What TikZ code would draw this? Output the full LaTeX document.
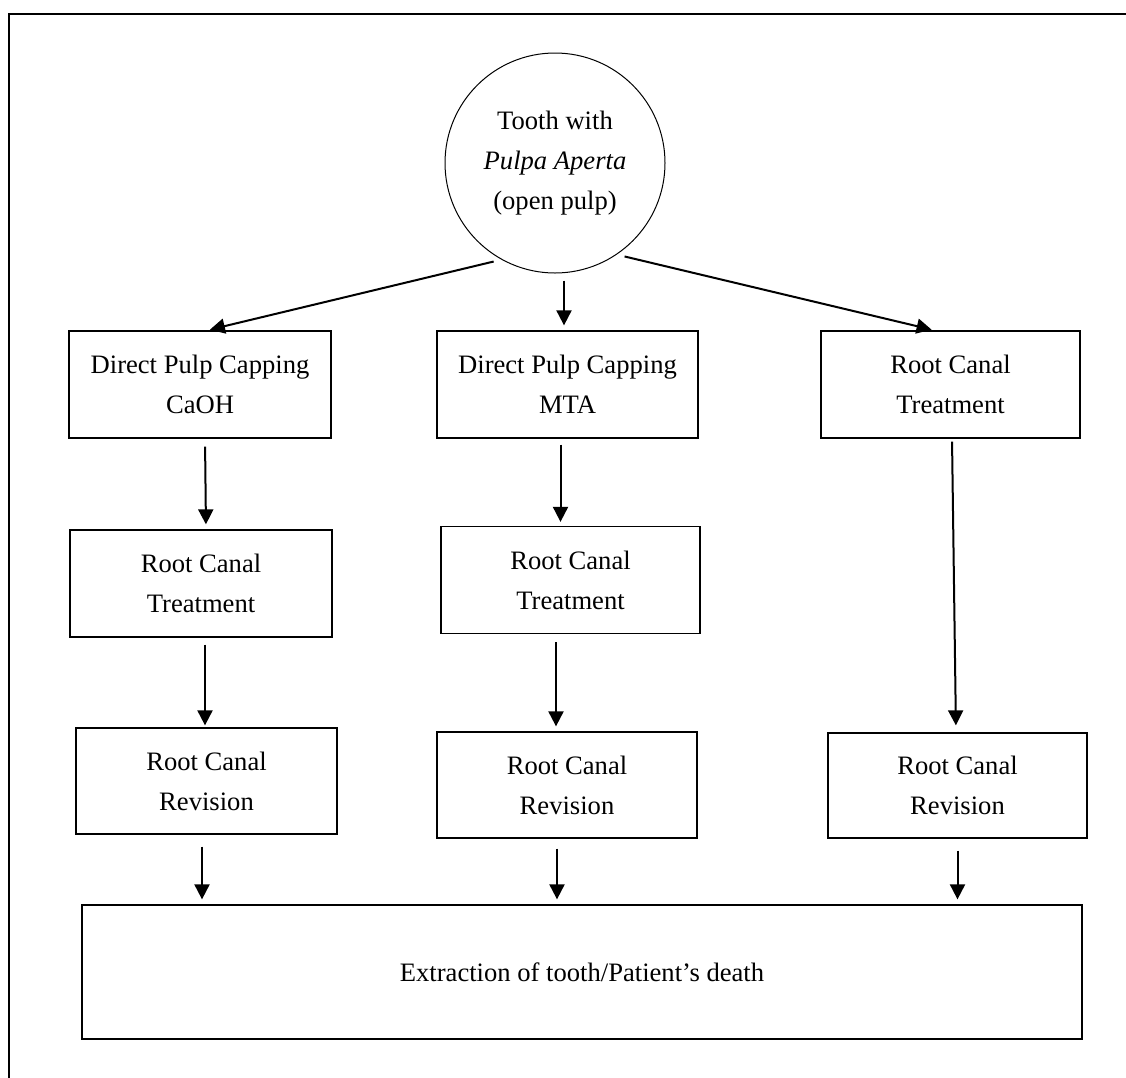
\documentclass[tikz,border=0pt]{standalone}
\usepackage{fontspec}
\setmainfont{Liberation Serif}
\usetikzlibrary{arrows.meta,calc}
\begin{document}
\begin{tikzpicture}[x=1pt,y=-1pt,
  every node/.style={font=\fontsize{26.6}{40}\selectfont},
  box/.style={draw,line width=1.3pt,align=center,inner sep=0pt},
  arr/.style={line width=2pt,-{Triangle[length=15pt,width=15pt]}}]
\useasboundingbox (0,0) rectangle (1126,1077);
% frame
\draw[line width=2pt] (1130,14) -- (9,14) -- (9,1080);
% start
\node[draw,circle,line width=1pt,minimum size=220pt,inner sep=0pt,align=center] (circ) at (555,163)
  {Tooth with\\\textit{Pulpa Aperta}\\(open pulp)};
% first row
\node[box,minimum width=262pt,minimum height=107pt] (A) at (200,384.5) {Direct Pulp Capping\\CaOH};
\node[box,minimum width=261pt,minimum height=107pt] (B) at (567.5,384.5) {Direct Pulp Capping\\MTA};
\node[box,minimum width=259pt,minimum height=107pt] (C) at (950.5,384.5) {Root Canal\\Treatment};
% second row
\node[box,minimum width=262pt,minimum height=107pt] (A2) at (201,583.5) {Root Canal\\Treatment};
\node[box,minimum width=259pt,minimum height=107pt] (B2) at (570.5,580) {Root Canal\\Treatment};
% third row
\node[box,minimum width=261pt,minimum height=106pt] (A3) at (206.5,781) {Root Canal\\Revision};
\node[box,minimum width=260pt,minimum height=106pt] (B3) at (567,785) {Root Canal\\Revision};
\node[box,minimum width=259pt,minimum height=105pt] (C3) at (957.5,785.5) {Root Canal\\Revision};
% end
\node[box,minimum width=1000pt,minimum height=134pt] (D) at (582,972) {Extraction of tooth/Patient’s death};
% connectors
\draw[arr,shorten <=8pt,shorten >=3pt] (circ.241) -- ([xshift=7pt]A.north);
\draw[arr,shorten <=7pt,shorten >=5pt] ([xshift=-3.5pt]B.north |- circ.south) -- ([xshift=-3.5pt]B.north);
\draw[arr,shorten <=8pt,shorten >=3pt] (circ.-56.7) -- ([xshift=-16pt]C.north);
\draw[arr,shorten <=8pt,shorten >=5pt] ([xshift=5pt]A.south) -- ([xshift=5pt]A2.north);
\draw[arr,shorten <=6pt,shorten >=4pt] ([xshift=-7pt]B.south) -- ([xshift=-7pt]B.south |- B2.north);
\draw[arr,shorten <=3pt,shorten >=7pt] ([xshift=1.5pt]C.south) -- ([xshift=-1.5pt]C3.north);
\draw[arr,shorten <=7pt,shorten >=2pt] ([xshift=4pt]A2.south) -- ([xshift=4pt]A2.south |- A3.north);
\draw[arr,shorten <=8pt,shorten >=5pt] ([xshift=-14.5pt]B2.south) -- ([xshift=-14.5pt]B2.south |- B3.north);
\draw[arr,shorten <=12pt,shorten >=5pt] ([xshift=-4.5pt]A3.south) -- ([xshift=-4.5pt]A3.south |- D.north);
\draw[arr,shorten <=10pt,shorten >=5pt] ([xshift=-10pt]B3.south) -- ([xshift=-10pt]B3.south |- D.north);
\draw[arr,shorten <=12pt,shorten >=5pt] (C3.south) -- (C3.south |- D.north);
\end{tikzpicture}
\end{document}
